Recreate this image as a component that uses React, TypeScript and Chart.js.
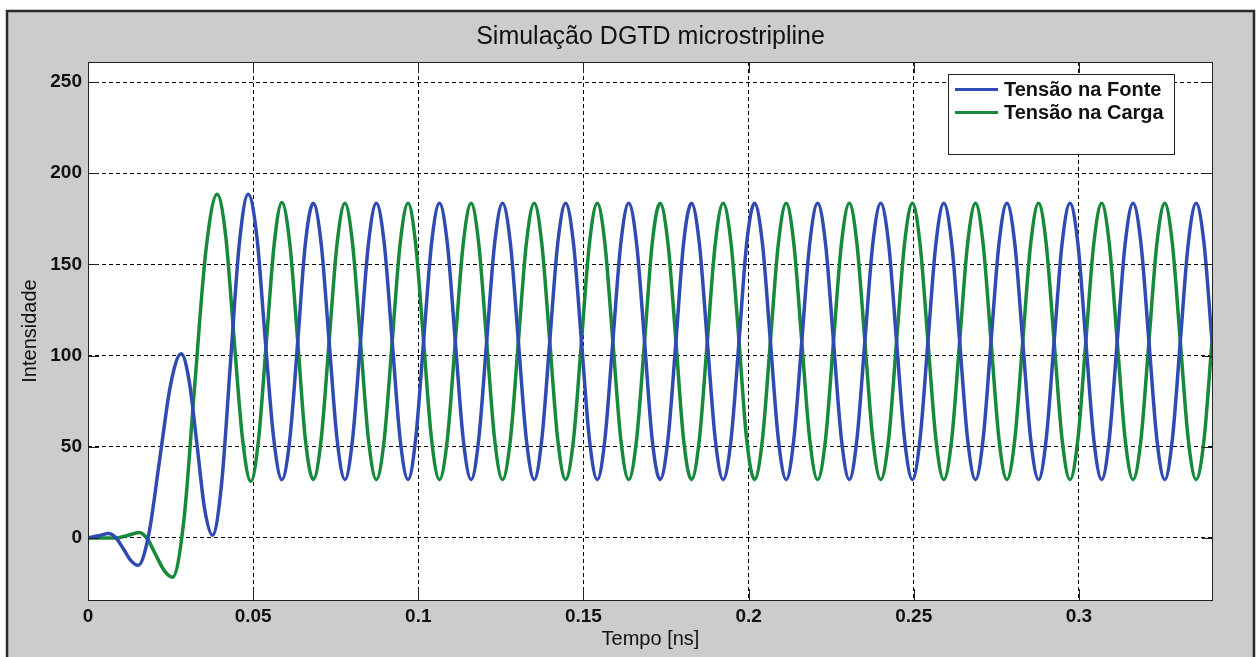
import React, { useEffect, useRef } from 'react';
import { Chart, registerables } from 'chart.js';

Chart.register(...registerables);

const chartTitle = 'Simulação DGTD microstripline';
const xAxisTitle = 'Tempo [ns]';
const yAxisTitle = 'Intensidade';
const seriesNames = ['Tensão na Fonte', 'Tensão na Carga'];
const seriesColors = ['#2f4bb2', '#17893b'];

const xTicks = [0, 0.05, 0.1, 0.15, 0.2, 0.25, 0.3];
const xTickLabels = ['0', '0.05', '0.1', '0.15', '0.2', '0.25', '0.3'];
const yTicks = [0, 50, 100, 150, 200, 250];
const yTickLabels = ['0', '50', '100', '150', '200', '250'];
const xRange = [0, 0.3406];
const yRange = [-34, 261];

// transient start
const fonteTransT = [
  0, 0.0032, 0.0063, 0.0085, 0.0108, 0.013, 0.0152, 0.0184, 0.0217, 0.025,
  0.0282, 0.0306, 0.033, 0.0353, 0.0377, 0.0404, 0.0431, 0.0458, 0.0485,
  0.0511, 0.0536, 0.0562,
];
const fonteTransV = [
  0, 1.2, 2.5, 0, -6.2, -12.4, -15, 2, 43, 84,
  101, 86.4, 51.2, 16, 1.5, 28.9, 95, 161.1, 188.5,
  165.6, 110.2, 54.9,
];
const cargaTransT = [
  0, 0.008, 0.0118, 0.0155, 0.018, 0.0205, 0.0231, 0.0256, 0.029, 0.0323,
  0.0357, 0.0391, 0.0417, 0.0442, 0.0468, 0.0493, 0.0516, 0.054, 0.0564,
];
const cargaTransV = [
  0, 0, 1.3, 3, -0.6, -9.2, -17.9, -21.5, 9.3, 83.5,
  157.7, 188.5, 165.4, 109.8, 54.1, 31, 53.4, 107.5, 161.6,
];

// steady oscillation (peaks, troughs and intermediate points)
const steadyT = [
  0.0587, 0.0611, 0.0635, 0.0658, 0.0682, 0.0706, 0.0730, 0.0754,
  0.0778, 0.0801, 0.0825, 0.0849, 0.0873, 0.0897, 0.0921, 0.0945,
  0.0969, 0.0992, 0.1016, 0.1040, 0.1064, 0.1088, 0.1112, 0.1136,
  0.1160, 0.1183, 0.1207, 0.1231, 0.1255, 0.1279, 0.1303, 0.1327,
  0.1351, 0.1374, 0.1398, 0.1422, 0.1446, 0.1470, 0.1494, 0.1518,
  0.1542, 0.1565, 0.1589, 0.1613, 0.1637, 0.1661, 0.1685, 0.1708,
  0.1732, 0.1756, 0.1780, 0.1803, 0.1827, 0.1851, 0.1875, 0.1899,
  0.1923, 0.1947, 0.1971, 0.1994, 0.2018, 0.2042, 0.2066, 0.2090,
  0.2114, 0.2137, 0.2161, 0.2185, 0.2209, 0.2233, 0.2257, 0.2281,
  0.2305, 0.2328, 0.2352, 0.2376, 0.2400, 0.2424, 0.2448, 0.2472,
  0.2496, 0.2519, 0.2543, 0.2567, 0.2591, 0.2615, 0.2639, 0.2663,
  0.2687, 0.2710, 0.2734, 0.2758, 0.2782, 0.2806, 0.2830, 0.2854,
  0.2878, 0.2901, 0.2925, 0.2949, 0.2973, 0.2997, 0.3021, 0.3045,
  0.3069, 0.3092, 0.3116, 0.3140, 0.3164, 0.3188, 0.3212, 0.3236,
  0.3260, 0.3283, 0.3307, 0.3331, 0.3355, 0.3379, 0.3403, 0.3427,
  0.3451,
];
const fonteSteadyV = [
  32, 54.2, 107.8, 161.3, 183.5, 161.3, 107.8, 54.2,
  32, 54.2, 107.8, 161.3, 183.5, 161.3, 107.8, 54.2,
  32, 54.2, 107.8, 161.3, 183.5, 161.3, 107.8, 54.2,
  32, 54.2, 107.8, 161.3, 183.5, 161.3, 107.8, 54.2,
  32, 54.2, 107.8, 161.3, 183.5, 161.3, 107.8, 54.2,
  32, 54.2, 107.8, 161.3, 183.5, 161.3, 107.8, 54.2,
  32, 54.2, 107.8, 161.3, 183.5, 161.3, 107.8, 54.2,
  32, 54.2, 107.8, 161.3, 183.5, 161.3, 107.8, 54.2,
  32, 54.2, 107.8, 161.3, 183.5, 161.3, 107.8, 54.2,
  32, 54.2, 107.8, 161.3, 183.5, 161.3, 107.8, 54.2,
  32, 54.2, 107.8, 161.3, 183.5, 161.3, 107.8, 54.2,
  32, 54.2, 107.8, 161.3, 183.5, 161.3, 107.8, 54.2,
  32, 54.2, 107.8, 161.3, 183.5, 161.3, 107.8, 54.2,
  32, 54.2, 107.8, 161.3, 183.5, 161.3, 107.8, 54.2,
  32, 54.2, 107.8, 161.3, 183.5, 161.3, 107.8, 54.2,
  32,
];
const cargaSteadyV = [
  184, 161.3, 107.8, 54.2, 32, 54.2, 107.8, 161.3,
  183.5, 161.3, 107.8, 54.2, 32, 54.2, 107.8, 161.3,
  183.5, 161.3, 107.8, 54.2, 32, 54.2, 107.8, 161.3,
  183.5, 161.3, 107.8, 54.2, 32, 54.2, 107.8, 161.3,
  183.5, 161.3, 107.8, 54.2, 32, 54.2, 107.8, 161.3,
  183.5, 161.3, 107.8, 54.2, 32, 54.2, 107.8, 161.3,
  183.5, 161.3, 107.8, 54.2, 32, 54.2, 107.8, 161.3,
  183.5, 161.3, 107.8, 54.2, 32, 54.2, 107.8, 161.3,
  183.5, 161.3, 107.8, 54.2, 32, 54.2, 107.8, 161.3,
  183.5, 161.3, 107.8, 54.2, 32, 54.2, 107.8, 161.3,
  183.5, 161.3, 107.8, 54.2, 32, 54.2, 107.8, 161.3,
  183.5, 161.3, 107.8, 54.2, 32, 54.2, 107.8, 161.3,
  183.5, 161.3, 107.8, 54.2, 32, 54.2, 107.8, 161.3,
  183.5, 161.3, 107.8, 54.2, 32, 54.2, 107.8, 161.3,
  183.5, 161.3, 107.8, 54.2, 32, 54.2, 107.8, 161.3,
  183.5,
];

const FONT = '"Liberation Sans", Arial, Helvetica, sans-serif';

const toPoints = (ts: number[], vs: number[]) => ts.map((t, i) => ({ x: t, y: vs[i] }));

const framePlugin = {
  id: 'matlabFrame',
  beforeDraw(chart: any) {
    const { ctx, chartArea: a, width, height } = chart;
    ctx.save();
    ctx.fillStyle = '#ffffff';
    ctx.fillRect(0, 0, width, height);
    ctx.fillStyle = '#cccccc';
    ctx.fillRect(7, 11, 1247, 660);
    ctx.strokeStyle = '#2a2a2a';
    ctx.lineWidth = 2.5;
    ctx.strokeRect(7, 11, 1247, 660);
    ctx.fillStyle = '#ffffff';
    ctx.fillRect(a.left, a.top, a.right - a.left, a.bottom - a.top);
    ctx.restore();
  },
  afterDraw(chart: any) {
    const { ctx, chartArea: a, scales } = chart;
    ctx.save();
    // axes box
    ctx.strokeStyle = '#222222';
    ctx.lineWidth = 1;
    ctx.strokeRect(a.left + 0.5, a.top + 0.5, a.right - a.left - 1, a.bottom - a.top);
    // inner tick marks
    const tl = 11;
    ctx.beginPath();
    xTicks.forEach((v) => {
      const px = Math.round(scales.x.getPixelForValue(v)) + 0.5;
      ctx.moveTo(px, a.bottom);
      ctx.lineTo(px, a.bottom - tl);
      ctx.moveTo(px, a.top);
      ctx.lineTo(px, a.top + tl);
    });
    yTicks.forEach((v) => {
      const py = Math.round(scales.y.getPixelForValue(v)) + 0.5;
      ctx.moveTo(a.left, py);
      ctx.lineTo(a.left + tl, py);
      ctx.moveTo(a.right, py);
      ctx.lineTo(a.right - tl, py);
    });
    ctx.stroke();

    // legend
    const lx = 948, ly = 74, lw = 226, lh = 80;
    ctx.fillStyle = '#ffffff';
    ctx.fillRect(lx, ly, lw, lh);
    ctx.strokeStyle = '#222222';
    ctx.lineWidth = 1;
    ctx.strokeRect(lx + 0.5, ly + 0.5, lw, lh);
    chart.data.datasets.forEach((ds: any, i: number) => {
      const y = 89.5 + i * 23;
      ctx.strokeStyle = ds.borderColor;
      ctx.lineWidth = 3;
      ctx.beginPath();
      ctx.moveTo(955, y);
      ctx.lineTo(998, y);
      ctx.stroke();
      ctx.fillStyle = '#111111';
      ctx.font = `bold 20px ${FONT}`;
      ctx.textBaseline = 'middle';
      ctx.textAlign = 'left';
      ctx.fillText(ds.label, 1004, y + 1);
    });
    ctx.restore();
  },
};

export default function App() {
  const ref = useRef<HTMLCanvasElement>(null);
  useEffect(() => {
    const canvas = ref.current;
    if (!canvas) return;
    const chart = new Chart(canvas, {
      type: 'line',
      data: {
        datasets: [
          {
            label: seriesNames[0],
            data: toPoints([...fonteTransT, ...steadyT], [...fonteTransV, ...fonteSteadyV]),
            borderColor: seriesColors[0],
            borderWidth: 3.5,
            pointRadius: 0,
            cubicInterpolationMode: 'monotone',
            fill: false,
            clip: 0,
          },
          {
            label: seriesNames[1],
            data: toPoints([...cargaTransT, ...steadyT], [...cargaTransV, ...cargaSteadyV]),
            borderColor: seriesColors[1],
            borderWidth: 3.5,
            pointRadius: 0,
            cubicInterpolationMode: 'monotone',
            fill: false,
            clip: 0,
          },
        ],
      },
      options: {
        responsive: false,
        animation: false,
        devicePixelRatio: 1,
        parsing: false as any,
        layout: { padding: { left: 0, top: 0, right: 47, bottom: 0 } },
        plugins: {
          legend: { display: false },
          tooltip: { enabled: false },
          title: {
            display: true,
            text: chartTitle,
            fullSize: false,
            color: '#111111',
            font: { family: FONT, size: 25, weight: 'normal', lineHeight: 1.2 },
            padding: { top: 22, bottom: 10 },
          },
        },
        scales: {
          x: {
            type: 'linear',
            position: 'bottom',
            min: xRange[0],
            max: xRange[1],
            afterFit: (s: any) => { s.height = 57; },
            afterBuildTicks: (s: any) => { s.ticks = xTicks.map((v) => ({ value: v })); },
            ticks: {
              autoSkip: false,
              maxRotation: 0,
              padding: 5,
              color: '#111111',
              font: { family: FONT, size: 19, weight: 'bold' },
              callback: (v: any) => xTickLabels[xTicks.indexOf(Number(v))] ?? String(v),
            },
            grid: { color: '#000000', lineWidth: 1, drawTicks: false },
            border: { display: false, dash: [4, 3] },
            title: {
              display: true,
              text: xAxisTitle,
              color: '#111111',
              font: { family: FONT, size: 20, weight: 'normal' },
              padding: { top: 0, bottom: 6 },
            },
          },
          y: {
            type: 'linear',
            min: yRange[0],
            max: yRange[1],
            afterFit: (s: any) => { s.width = 88; },
            afterBuildTicks: (s: any) => { s.ticks = yTicks.map((v) => ({ value: v })); },
            ticks: {
              autoSkip: false,
              padding: 6,
              color: '#111111',
              font: { family: FONT, size: 19, weight: 'bold' },
              callback: (v: any) => yTickLabels[yTicks.indexOf(Number(v))] ?? String(v),
            },
            grid: { color: '#000000', lineWidth: 1, drawTicks: false },
            border: { display: false, dash: [4, 3] },
            title: {
              display: true,
              text: yAxisTitle,
              color: '#111111',
              font: { family: FONT, size: 20, weight: 'normal' },
              padding: { top: 18, bottom: 0 },
            },
          },
        },
      },
      plugins: [framePlugin],
    } as any);
    return () => chart.destroy();
  }, []);

  return (
    <div style={{ position: 'fixed', left: 0, top: 0, width: 1260, height: 657, background: '#ffffff' }}>
      <canvas ref={ref} width={1260} height={657} style={{ display: 'block', width: 1260, height: 657 }} />
    </div>
  );
}
